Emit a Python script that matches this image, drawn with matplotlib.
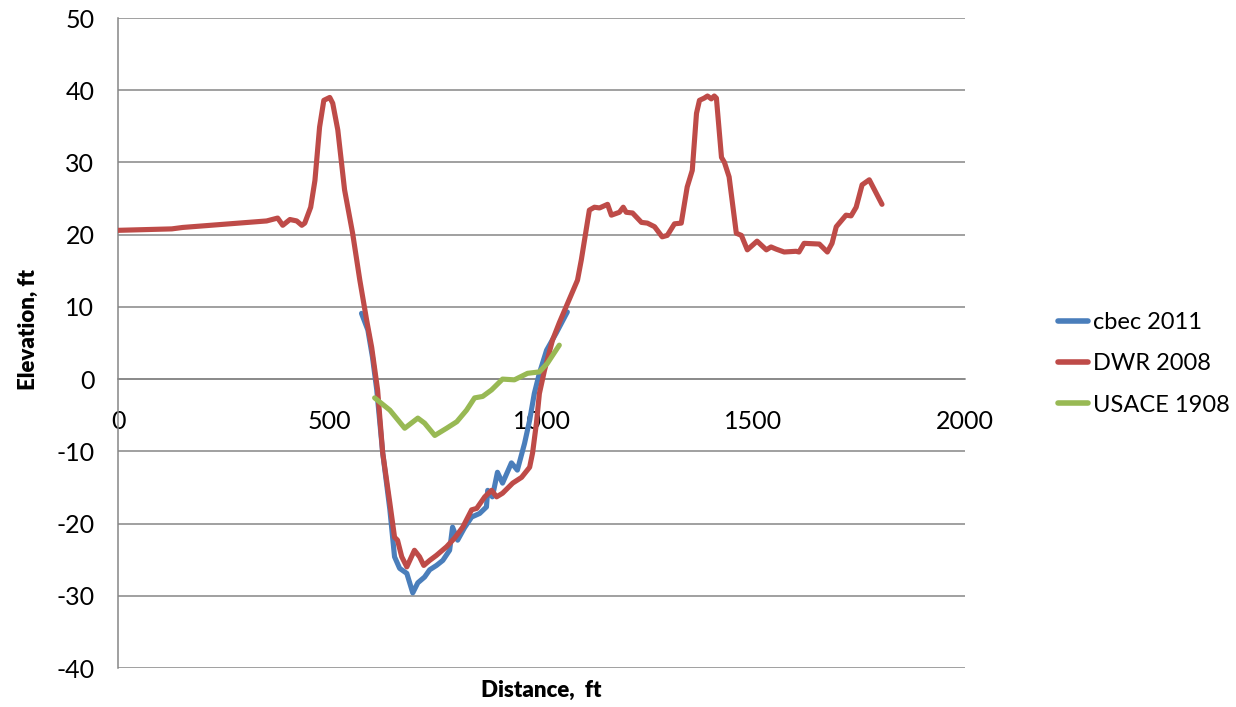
import matplotlib
matplotlib.use("Agg")
import matplotlib.pyplot as plt

# cross-section profiles
cbec_x = [575, 590, 601, 611, 625, 642, 653, 665, 682, 696, 708, 724, 736, 752, 767, 783, 790,
          802, 818, 835, 854, 870, 873, 884, 896, 908, 929, 943, 960, 972, 983, 995, 1012, 1035, 1061]
cbec_y = [9.1, 6.8, 3.0, -1.5, -10.2, -18.1, -24.6, -26.2, -26.9, -29.6, -28.2, -27.4, -26.4, -25.8,
          -25.1, -23.7, -20.5, -22.3, -20.6, -19.1, -18.6, -17.7, -15.4, -16.3, -12.9, -14.4, -11.6,
          -12.6, -8.9, -5.7, -2.0, 0.8, 4.0, 6.4, 9.3]

dwr_x = [0, 127, 153, 351, 377, 389, 406, 422, 434, 441, 455, 465, 476, 486, 500, 507, 519, 535,
         554, 571, 587, 599, 613, 625, 642, 653, 660, 670, 682, 700, 712, 722, 736, 752, 776, 795,
         814, 835, 847, 866, 882, 894, 908, 932, 953, 972, 979, 988, 995, 1007, 1026, 1042, 1050,
         1085, 1094, 1113, 1125, 1137, 1156, 1165, 1184, 1193, 1200, 1215, 1236, 1250, 1267, 1285,
         1297, 1314, 1330, 1344, 1356, 1366, 1373, 1384, 1392, 1401, 1408, 1413, 1425, 1432, 1443,
         1460, 1472, 1486, 1509, 1531, 1542, 1554, 1573, 1601, 1608, 1620, 1656, 1675, 1686, 1696,
         1719, 1731, 1743, 1757, 1774, 1804]
dwr_y = [20.6, 20.8, 21.0, 21.9, 22.3, 21.3, 22.1, 21.9, 21.3, 21.6, 23.8, 27.5, 34.9, 38.6, 39.0,
         38.2, 34.5, 26.2, 20.2, 13.7, 8.2, 4.4, -1.5, -10.2, -17.2, -21.9, -22.3, -24.6, -26.0,
         -23.7, -24.6, -25.8, -25.1, -24.4, -23.2, -22.0, -20.5, -18.1, -17.9, -16.3, -15.4, -16.3,
         -15.8, -14.4, -13.6, -12.2, -10.2, -6.1, -2.0, 1.2, 5.4, 7.8, 8.9, 13.7, 16.5, 23.4, 23.8,
         23.7, 24.2, 22.7, 23.1, 23.8, 23.1, 23.0, 21.7, 21.6, 21.1, 19.7, 19.9, 21.5, 21.6, 26.6,
         28.9, 36.8, 38.6, 38.9, 39.2, 38.8, 39.2, 38.9, 30.7, 30.0, 28.0, 20.2, 19.9, 17.9, 19.1,
         17.9, 18.3, 18.0, 17.6, 17.7, 17.6, 18.8, 18.7, 17.6, 18.8, 21.1, 22.7, 22.6, 23.8, 26.9,
         27.6, 24.2]

usace_x = [606, 642, 677, 708, 724, 748, 776, 800, 823, 842, 861, 882, 908, 936, 967, 995, 1014, 1042]
usace_y = [-2.6, -4.3, -6.8, -5.4, -6.1, -7.8, -6.8, -5.9, -4.3, -2.6, -2.4, -1.5, 0.0, -0.1, 0.8,
           1.0, 2.2, 4.7]

x_ticks = [0, 500, 1000, 1500, 2000]
y_ticks = [-40, -30, -20, -10, 0, 10, 20, 30, 40, 50]

plt.rcParams['font.family'] = ['Lato', 'DejaVu Sans']
plt.rcParams['axes.unicode_minus'] = False

fig = plt.figure(figsize=(12.36, 7.07), dpi=100)
ax = fig.add_axes([118 / 1236, 1 - 668 / 707, (965 - 118) / 1236, (668 - 18) / 707])

grid_c = '#868686'
style = dict(lw=3.7, solid_capstyle='round', solid_joinstyle='round')
ax.plot(cbec_x, cbec_y, color='#4A7EBB', label='cbec 2011', zorder=3, **style)
ax.plot(dwr_x, dwr_y, color='#BE4B48', label='DWR 2008', zorder=4, **style)
ax.plot(usace_x, usace_y, color='#98B954', label='USACE 1908', zorder=5, **style)

ax.set_xlim(0, 2000)
ax.set_ylim(-40, 50)
ax.set_xticks(x_ticks)
ax.set_yticks(y_ticks)
ax.yaxis.grid(True, color=grid_c, lw=1.1)
ax.set_axisbelow(True)

for s in ['top', 'right']:
    ax.spines[s].set_visible(False)
ax.spines['left'].set_color(grid_c)
ax.spines['left'].set_linewidth(1.1)
ax.spines['bottom'].set_position(('data', 0))
ax.spines['bottom'].set_color(grid_c)
ax.spines['bottom'].set_linewidth(1.1)

ax.tick_params(axis='both', length=0, labelsize=18)
ax.tick_params(axis='x', pad=22)
ax.tick_params(axis='y', pad=17)

fig.text(541 / 1236, 1 - 690 / 707, 'Distance,  ft', ha='center', va='center',
         fontsize=16, fontweight='heavy')
fig.text(28 / 1236, 1 - 330 / 707, 'Elevation, ft', ha='center', va='center',
         rotation=90, fontsize=16, fontweight='heavy')

leg = ax.legend(loc='center left', bbox_to_anchor=(1058 / 1236, 1 - 364 / 707),
                bbox_transform=fig.transFigure, frameon=False, fontsize=17,
                borderpad=0, borderaxespad=0,
                handlelength=1.27, handletextpad=0.2, labelspacing=0.85)
for h in leg.get_lines():
    h.set_linewidth(4.0)

fig.savefig('out.png', dpi=100)
